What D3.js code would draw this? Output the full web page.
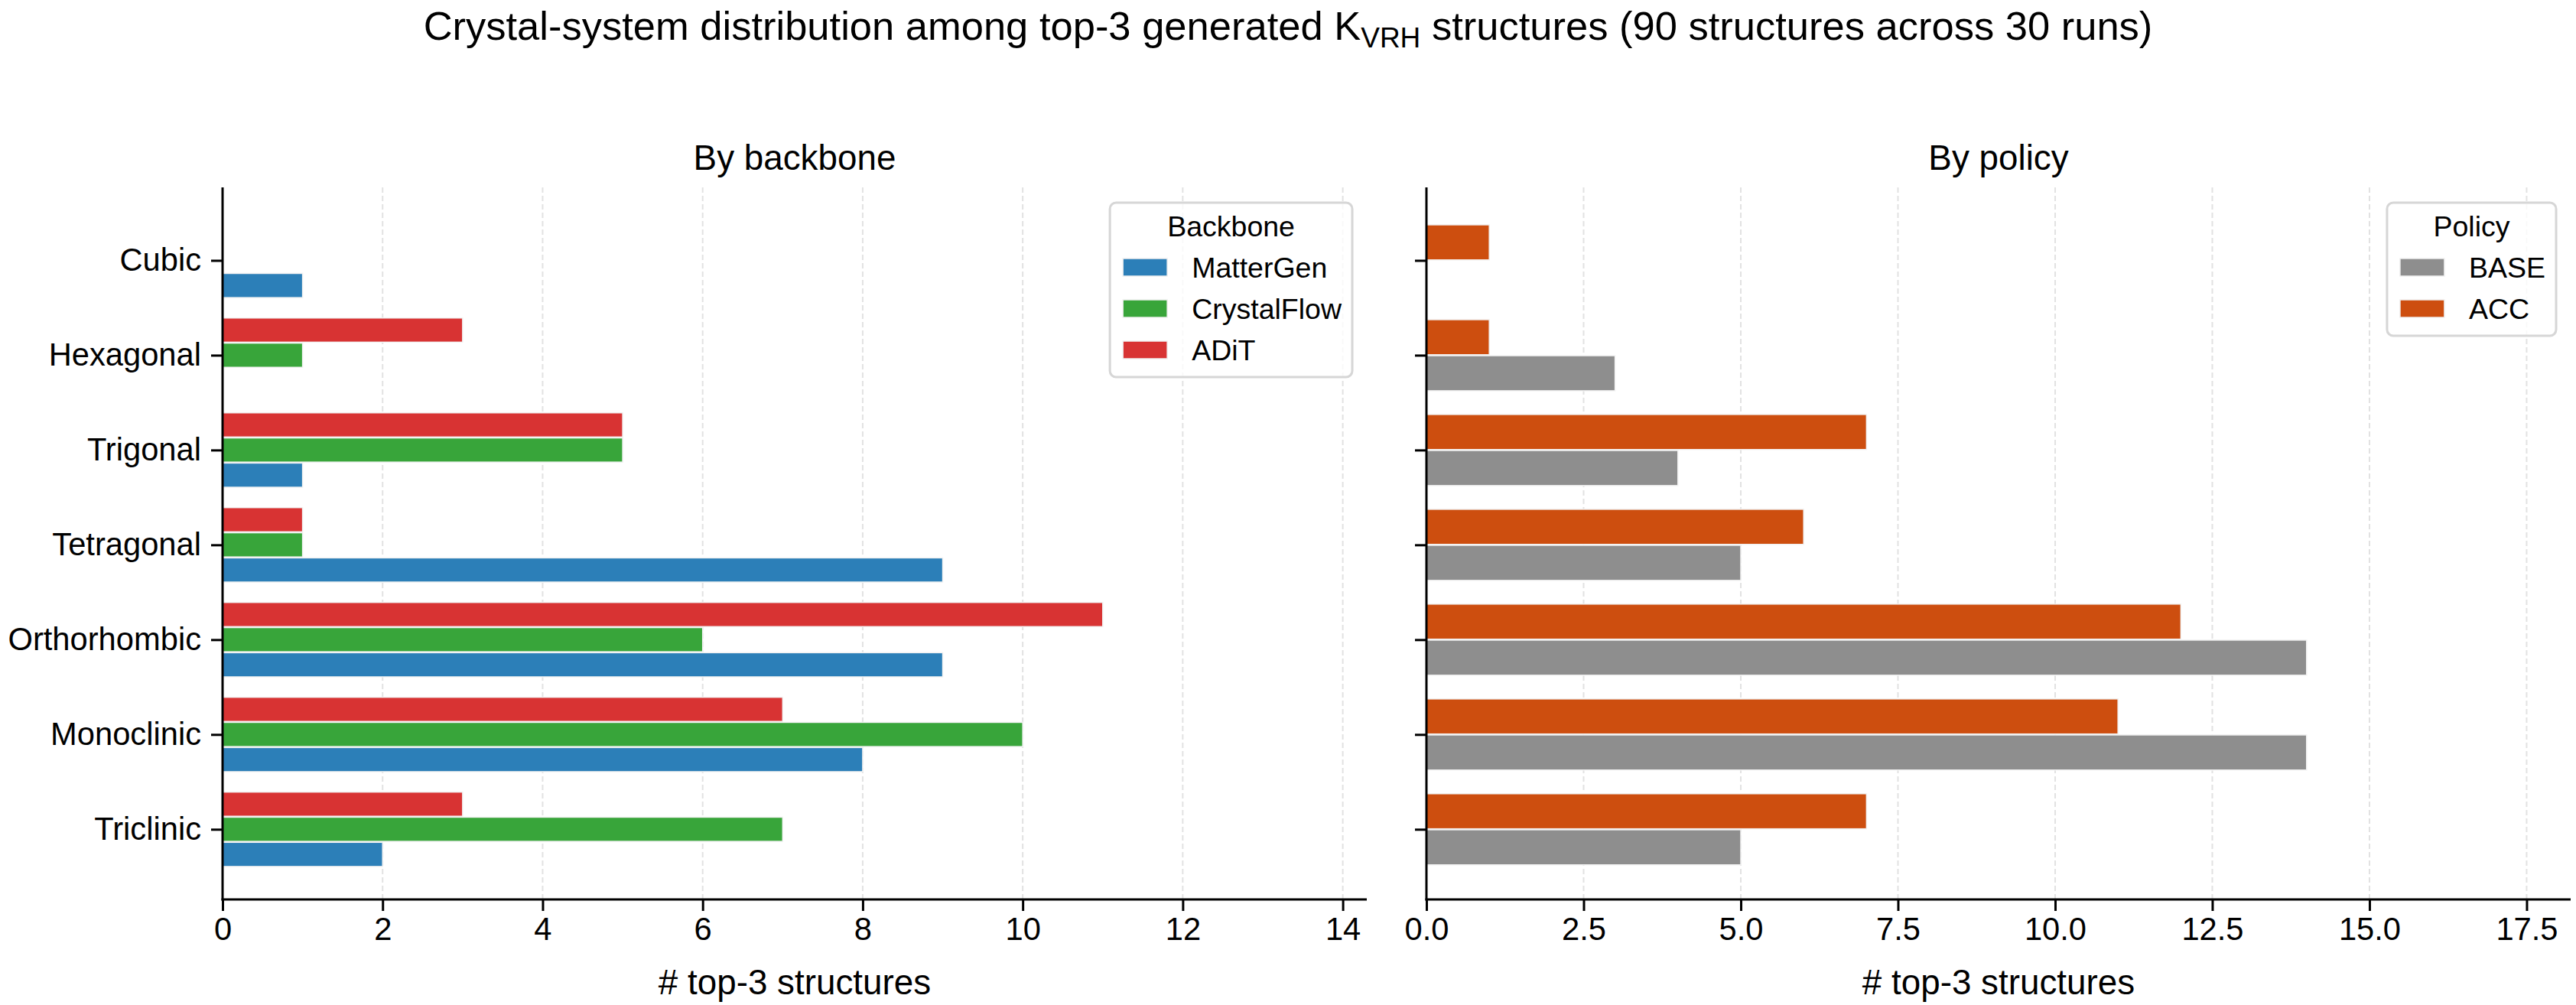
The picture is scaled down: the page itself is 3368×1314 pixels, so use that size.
<!DOCTYPE html>
<html>
<head>
<meta charset="utf-8" />
<script src="https://cdn.jsdelivr.net/npm/d3@7"></script>
<style>
  body { margin: 0; background: #fff; }
  svg { display: block; font-family: "Liberation Sans", Arial, sans-serif; }
</style>
</head>
<body>
<svg id="chart"></svg>
<script>
// data
const systems = ["Cubic", "Hexagonal", "Trigonal", "Tetragonal", "Orthorhombic", "Monoclinic", "Triclinic"];

const backbones = ["MatterGen", "CrystalFlow", "ADiT"];
const matterGen = [1, 0, 1, 9, 9, 8, 2];
const crystalFlow = [0, 1, 5, 1, 6, 10, 7];
const adit = [0, 3, 5, 1, 11, 7, 3];

const policies = ["BASE", "ACC"];
const base = [0, 3, 4, 5, 14, 14, 5];
const acc = [1, 1, 7, 6, 12, 11, 7];

const leftTicks = [0, 2, 4, 6, 8, 10, 12, 14];
const rightTicks = [0, 2.5, 5, 7.5, 10, 12.5, 15, 17.5];

const backboneColors = ["#2c7fb8", "#38a53a", "#d83333"];
const policyColors = ["#8e8e8e", "#cd4e0f"];

const width = 3368;
const height = 1314;
const plotTop = 245;
const plotBottom = 1176;
const plotW = 1496;
const leftX0 = 291;
const rightX0 = 1865;

const fontTick = 41.7;
const fontTitle = 45.8;
const fontLegend = 37.5;

const svg = d3.select("#chart").attr("width", width).attr("height", height);

// shared y scale: Cubic on top, Triclinic at the bottom
const yScale = d3
  .scaleLinear()
  .domain([-0.74, 6.77])
  .range([plotBottom, plotTop]);

function drawPanel(x0, series, names, colors, ticks, tickFmt, offsets, barH, title, legendTitle, showLabels) {
  const xMax = d3.max(series.flat()) * 1.3;
  const xScale = d3.scaleLinear().domain([0, xMax]).range([x0, x0 + plotW]);
  const g = svg.append("g");

  // dashed vertical grid
  g.selectAll(".grid")
    .data(ticks)
    .join("line")
    .attr("x1", (d) => xScale(d))
    .attr("x2", (d) => xScale(d))
    .attr("y1", plotTop)
    .attr("y2", plotBottom)
    .attr("stroke", "#e2e2e2")
    .attr("stroke-width", 2)
    .attr("stroke-dasharray", "7,4");

  // bars
  const bh = barH * (yScale(0) - yScale(1));
  series.forEach((vals, s) => {
    const off = offsets[s];
    g.append("g")
      .selectAll("rect")
      .data(vals.map((v, i) => ({ v, i })).filter((d) => d.v > 0))
      .join("rect")
      .attr("x", xScale(0))
      .attr("y", (d) => yScale(systems.length - 1 - d.i + off) - bh / 2)
      .attr("width", (d) => xScale(d.v) - xScale(0))
      .attr("height", bh)
      .attr("fill", colors[s])
      .attr("stroke", "#f2f2f2")
      .attr("stroke-width", 1.5);
  });

  // x axis
  const xAxis = d3
    .axisBottom(xScale)
    .tickValues(ticks)
    .tickFormat(tickFmt)
    .tickSize(15)
    .tickPadding(8);
  const xg = g.append("g").attr("transform", `translate(0,${plotBottom})`).call(xAxis);
  xg.select(".domain").remove();
  xg.selectAll(".tick line").attr("stroke", "#000").attr("stroke-width", 3);
  xg.selectAll(".tick text")
    .attr("font-size", fontTick)
    .attr("font-family", "Liberation Sans, Arial, sans-serif")
    .attr("fill", "#000");

  // y axis
  const yAxis = d3
    .axisLeft(yScale)
    .tickValues(d3.range(systems.length))
    .tickFormat((d) => (showLabels ? systems[systems.length - 1 - d] : ""))
    .tickSize(15)
    .tickPadding(13);
  const yg = g.append("g").attr("transform", `translate(${x0},0)`).call(yAxis);
  yg.select(".domain").remove();
  yg.selectAll(".tick line").attr("stroke", "#000").attr("stroke-width", 3);
  yg.selectAll(".tick text")
    .attr("font-size", fontTick)
    .attr("font-family", "Liberation Sans, Arial, sans-serif")
    .attr("fill", "#000");

  // spines
  g.append("line")
    .attr("x1", x0).attr("x2", x0)
    .attr("y1", plotTop).attr("y2", plotBottom + 1.5)
    .attr("stroke", "#000").attr("stroke-width", 3);
  g.append("line")
    .attr("x1", x0 - 1.5).attr("x2", x0 + plotW)
    .attr("y1", plotBottom).attr("y2", plotBottom)
    .attr("stroke", "#000").attr("stroke-width", 3);

  // titles
  g.append("text")
    .attr("x", x0 + plotW / 2)
    .attr("y", 222)
    .attr("text-anchor", "middle")
    .attr("font-size", fontTitle)
    .text(title);
  g.append("text")
    .attr("x", x0 + plotW / 2)
    .attr("y", 1300)
    .attr("text-anchor", "middle")
    .attr("font-size", fontTitle)
    .text("# top-3 structures");

  // legend (upper right)
  const lg = g.append("g");
  const patchW = 58;
  const patchH = 23;
  const rowH = 54;
  const labels = lg
    .selectAll(".lab")
    .data(names)
    .join("text")
    .attr("font-size", fontLegend)
    .text((d) => d);
  const textW = d3.max(labels.nodes(), (n) => n.getComputedTextLength());
  const boxW = 17 + patchW + 32 + textW + 14;
  const boxH = 73 + rowH * (names.length - 1) + patchH + 24;
  const bx = x0 + plotW - 19 - boxW;
  const by = 265;
  lg.insert("rect", ":first-child")
    .attr("x", bx)
    .attr("y", by)
    .attr("width", boxW)
    .attr("height", boxH)
    .attr("rx", 8)
    .attr("fill", "rgba(255,255,255,0.8)")
    .attr("stroke", "#d6d6d6")
    .attr("stroke-width", 3);
  lg.append("text")
    .attr("x", bx + boxW / 2)
    .attr("y", by + 44)
    .attr("text-anchor", "middle")
    .attr("font-size", fontLegend)
    .text(legendTitle);
  labels
    .attr("x", bx + 17 + patchW + 32)
    .attr("y", (d, i) => by + 73 + i * rowH + patchH / 2 + 13);
  lg.selectAll(".patch")
    .data(names)
    .join("rect")
    .attr("x", bx + 17)
    .attr("y", (d, i) => by + 73 + i * rowH)
    .attr("width", patchW)
    .attr("height", patchH)
    .attr("fill", (d, i) => colors[i])
    .attr("stroke", "#f0f0f0")
    .attr("stroke-width", 1.5);
}

drawPanel(
  leftX0,
  [matterGen, crystalFlow, adit],
  backbones,
  backboneColors,
  leftTicks,
  d3.format("d"),
  [-0.265, 0, 0.265],
  0.255,
  "By backbone",
  "Backbone",
  true
);

drawPanel(
  rightX0,
  [base, acc],
  policies,
  policyColors,
  rightTicks,
  d3.format(".1f"),
  [-0.19, 0.19],
  0.37,
  "By policy",
  "Policy",
  false
);

// suptitle with subscript
const sup = svg
  .append("text")
  .attr("x", width / 2)
  .attr("y", 52)
  .attr("text-anchor", "middle")
  .attr("font-size", 52.5);
sup.append("tspan").text("Crystal-system distribution among top-3 generated K");
sup.append("tspan").attr("font-size", 37).attr("dy", 10).text("VRH");
sup.append("tspan").attr("dy", -10).text(" structures (90 structures across 30 runs)");
</script>
</body>
</html>
